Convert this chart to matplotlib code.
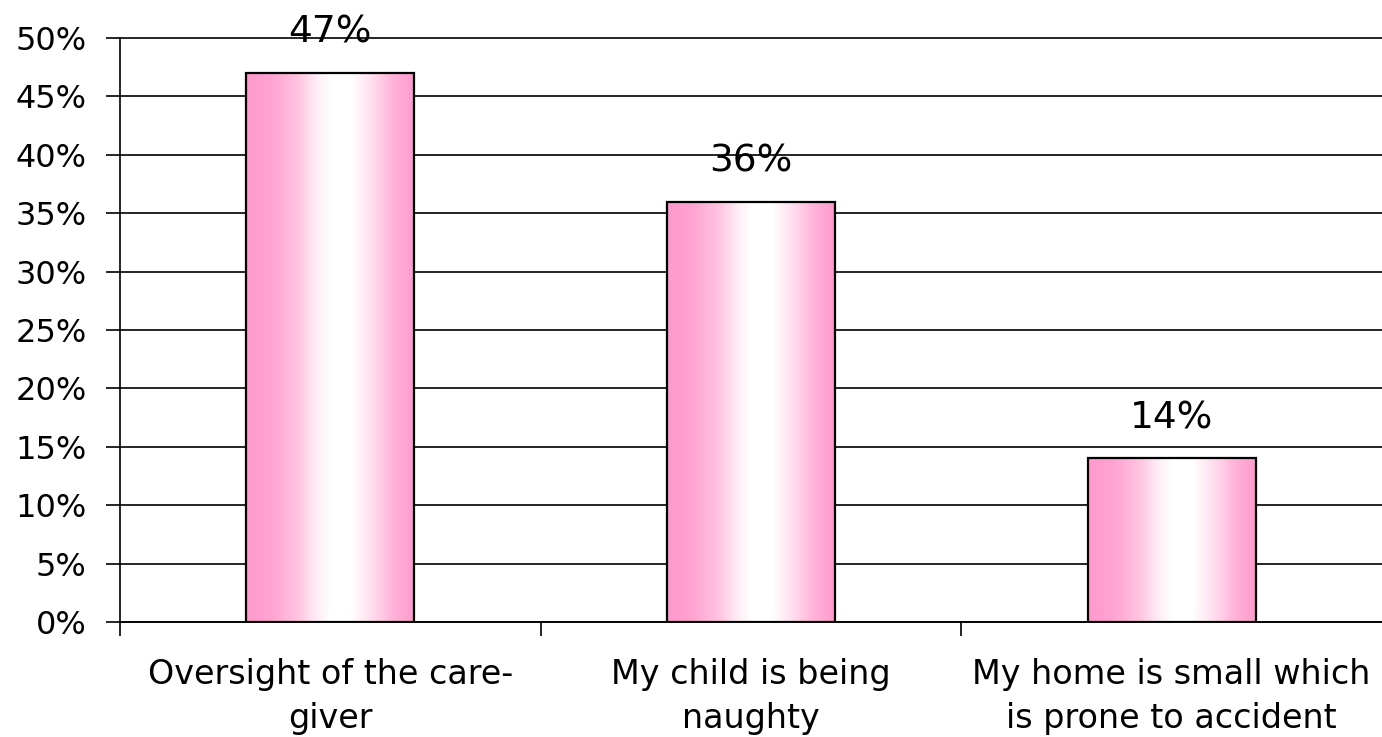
import numpy as np
import matplotlib.pyplot as plt
from matplotlib.colors import LinearSegmentedColormap
from matplotlib.ticker import FuncFormatter

# ---------------- DATA ---------------- #
categories = ["Oversight of the care-\ngiver",
              "My child is being\nnaughty",
              "My home is small which\nis prone to accident"]
values = [47, 36, 14]
value_labels = ["47%", "36%", "14%"]
y_ticks = [0, 5, 10, 15, 20, 25, 30, 35, 40, 45, 50]

plt.rcParams['font.family'] = ['DejaVu Sans']


def create_chart(output_filename="out.png"):
    fig = plt.figure(figsize=(13.82, 7.37), dpi=100)
    ax = fig.add_axes([120 / 1382, 1 - 622 / 737, 1262 / 1382, 584 / 737])

    # pink -> white -> pink horizontal fill, like the original's bar gradient
    pink_cmap = LinearSegmentedColormap.from_list(
        "pinkgrad", [(0.0, "#ff99cc"), (0.15, "#ffa3d1"), (0.30, "#ffc2e0"),
                     (0.42, "#ffeef6"), (0.50, "#ffffff"), (0.62, "#ffffff"),
                     (0.74, "#ffe0ef"), (0.87, "#ffb3d9"), (1.0, "#ff99cc")])
    gradient = np.linspace(0, 1, 256).reshape(1, -1)

    width = 0.4
    x = np.arange(len(values))
    bars = ax.bar(x, values, width=width, facecolor="none",
                  edgecolor="black", linewidth=1.6, zorder=3)
    for bar in bars:
        x0, y0 = bar.get_x(), bar.get_y()
        w, h = bar.get_width(), bar.get_height()
        ax.imshow(gradient, cmap=pink_cmap, aspect="auto",
                  extent=[x0, x0 + w, y0, y0 + h], zorder=2,
                  interpolation="bilinear")

    for xi, v, lab in zip(x, values, value_labels):
        ax.text(xi, v + 1.9, lab, ha="center", va="bottom", fontsize=27)

    ax.set_xlim(-0.5, 2.5)
    ax.set_ylim(0, 50)
    ax.set_yticks(y_ticks)
    ax.yaxis.set_major_formatter(FuncFormatter(lambda v, p: f"{int(v)}%"))
    ax.grid(axis="y", color="black", linewidth=1.2, zorder=1)
    ax.set_axisbelow(True)
    for line in ax.get_ygridlines():
        line.set_clip_on(False)

    ax.set_xticks([-0.5, 0.5, 1.5])
    ax.set_xticklabels([])
    ax.set_xticks(x, minor=True)
    ax.set_xticklabels(categories, minor=True, fontsize=24, linespacing=1.4)
    ax.tick_params(axis="x", which="minor", length=0, pad=26)
    ax.tick_params(axis="x", which="major", length=10, width=1.2)
    ax.tick_params(axis="y", length=10, width=1.2, labelsize=23, pad=14)

    for side in ["top", "right"]:
        ax.spines[side].set_visible(False)
    ax.spines["left"].set_linewidth(1.2)
    ax.spines["bottom"].set_linewidth(1.2)

    fig.savefig(output_filename, dpi=100)
    return output_filename


if __name__ == "__main__":
    create_chart()
